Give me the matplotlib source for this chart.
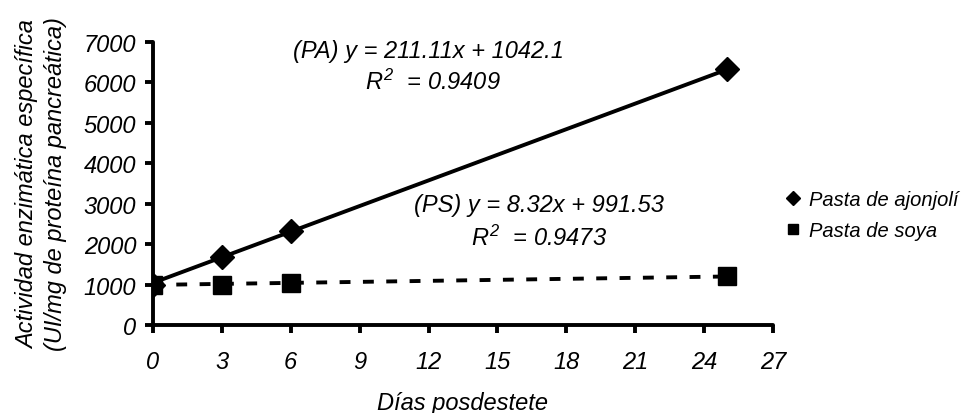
import numpy as np
import matplotlib.pyplot as plt

plt.rcParams['font.family'] = ['Liberation Sans', 'DejaVu Sans']
plt.rcParams['font.style'] = 'italic'
plt.rcParams['mathtext.fontset'] = 'custom'
plt.rcParams['mathtext.it'] = 'Liberation Sans:italic'
plt.rcParams['mathtext.rm'] = 'Liberation Sans:italic'

dias = [0, 3, 6, 25]
ajonjoli = [1000, 1680, 2320, 6340]
soya = [1000, 990, 1045, 1200]

# ecuaciones de tendencia lineal
pa_m, pa_b, pa_r2 = 211.11, 1042.1, 0.9409
ps_m, ps_b, ps_r2 = 8.32, 991.53, 0.9473

fs = 17

fig = plt.figure(figsize=(9.65, 4.14), dpi=100)
ax = fig.add_axes([0.1585, 0.2126, 0.6425, 0.6836])

xt = np.array([0, 25])
ax.plot(xt, pa_m * xt + pa_b, color='black', lw=2.8, solid_capstyle='butt', zorder=2)
ax.plot(xt, ps_m * xt + ps_b, color='black', lw=2.8, ls=(0, (2.8, 3.2)), zorder=2)

ax.plot(dias, ajonjoli, 'D', color='black', ms=12, ls='none', label='Pasta de ajonjolí', zorder=3)
ax.plot(dias, soya, 's', color='black', ms=13, ls='none', label='Pasta de soya', zorder=4)

ax.set_xlim(0, 27)
ax.set_ylim(0, 7000)
ax.set_xticks(range(0, 28, 3))
ax.set_yticks(range(0, 7001, 1000))

for s in ['top', 'right']:
    ax.spines[s].set_visible(False)
for s in ['left', 'bottom']:
    ax.spines[s].set_linewidth(2.8)
    ax.spines[s].set_capstyle('round')
ax.tick_params(width=2.8, length=6, labelsize=fs)
ax.tick_params(axis='x', pad=12)
ax.tick_params(axis='y', pad=6)
for lbl in ax.get_xticklabels() + ax.get_yticklabels():
    lbl.set_style('italic')

ax.set_xlabel('Días posdestete', fontsize=fs, labelpad=13)
ax.set_ylabel('Actividad enzimática específica\n(UI/mg de proteína pancreática)',
              fontsize=fs, labelpad=12, linespacing=1.25)

ax.text(12.0, 6800, f'(PA) y = {pa_m}x + {pa_b}', fontsize=fs, ha='center', va='center')
ax.text(12.2, 6030, f'$R^2$  = {pa_r2}', fontsize=fs, ha='center', va='center')
ax.text(16.8, 2975, f'(PS) y = {ps_m}x + {ps_b}', fontsize=fs, ha='center', va='center')
ax.text(16.8, 2175, f'$R^2$  = {ps_r2}', fontsize=fs, ha='center', va='center')

leg = ax.legend(loc='center left', bbox_to_anchor=(1.01, 0.39), frameon=False,
                fontsize=14.5, handlelength=0.6, handletextpad=0.5, markerscale=0.6,
                labelspacing=0.6, borderpad=0.0, borderaxespad=0.4)

fig.savefig('out.png', dpi=100)
